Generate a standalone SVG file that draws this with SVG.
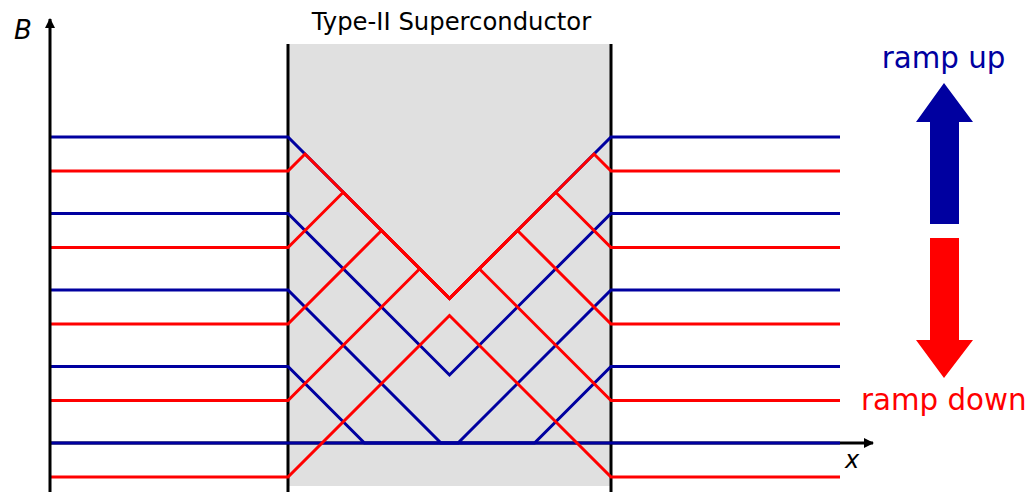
<svg xmlns="http://www.w3.org/2000/svg" width="1025" height="492" viewBox="0 0 1025 492">
  <defs>
    <marker id="axhead" viewBox="0 0 10 10" refX="9" refY="5" markerWidth="10" markerHeight="10" markerUnits="userSpaceOnUse" orient="auto">
      <path d="M0,0 L10,5 L0,10 Z" fill="#000"/>
    </marker>
    <style>
      .up { fill: none; stroke: #0000a0; stroke-width: 3; stroke-linejoin: miter; }
      .down { fill: none; stroke: #ff0000; stroke-width: 3; stroke-linejoin: miter; }
      .axis { fill: none; stroke: #000; stroke-width: 3; }
      .wall { stroke: #000; stroke-width: 3; }
      .lbl { font-family: "DejaVu Sans", Verdana, sans-serif; }
    </style>
  </defs>
  <rect width="1025" height="492" fill="#fff"/>

  <g id="superconductor">
    <rect x="288" y="44" width="323" height="442" fill="#e0e0e0"/>
    <line class="wall" x1="288" y1="44" x2="288" y2="492"/>
    <line class="wall" x1="611" y1="44" x2="611" y2="492"/>
    <text class="lbl" x="451.5" y="30" font-size="24.3" text-anchor="middle" fill="#000">Type-II Superconductor</text>
  </g>

  <g id="x-axis">
    <line class="axis" x1="50" y1="443" x2="873" y2="443" marker-end="url(#axhead)"/>
    <text class="lbl" x="845" y="468" font-size="24" font-style="italic" fill="#000">x</text>
  </g>

  <g id="connectors">
    <g id="ramp-up-profiles">
      <path class="up" d="M50,137 H288 L449.5,298.5 L611,137 H840"/>
      <path class="up" d="M50,213.5 H288 L449.5,375 L611,213.5 H840"/>
      <path class="up" d="M50,290 H288 L441,443 H458 L611,290 H840"/>
      <path class="up" d="M50,366.5 H288 L364.5,443 H534.5 L611,366.5 H840"/>
      <path class="up" d="M50,443 H840"/>
    </g>
    <g id="ramp-down-profiles">
      <path class="down" d="M50,171 H288 L305,154 L449.5,298.5 L594,154 L611,171 H840"/>
      <path class="down" d="M50,247.5 H288 L343.25,192.25 L449.5,298.5 L555.75,192.25 L611,247.5 H840"/>
      <path class="down" d="M50,324 H288 L381.5,230.5 L449.5,298.5 L517.5,230.5 L611,324 H840"/>
      <path class="down" d="M50,400.5 H288 L419.75,268.75 L449.5,298.5 L479.25,268.75 L611,400.5 H840"/>
      <path class="down" d="M50,477 H288 L449.5,315.5 L611,477 H840"/>
    </g>
  </g>

  <g id="b-axis">
    <line class="axis" x1="50" y1="492" x2="50" y2="19" marker-end="url(#axhead)"/>
    <text class="lbl" x="14" y="39" font-size="26" font-style="italic" fill="#000">B</text>
  </g>

  <g id="ramp-up-legend">
    <text class="lbl" x="943.5" y="68" font-size="29.3" text-anchor="middle" fill="#0000a0">ramp up</text>
    <polygon points="944,83 973,122 959,122 959,224 930,224 930,122 916,122" fill="#0000a0"/>
  </g>

  <g id="ramp-down-legend">
    <polygon points="930,238 959,238 959,340 973,340 944,378 916,340 930,340" fill="#ff0000"/>
    <text class="lbl" x="861" y="410" font-size="29.3" fill="#ff0000">ramp down</text>
  </g>
</svg>
